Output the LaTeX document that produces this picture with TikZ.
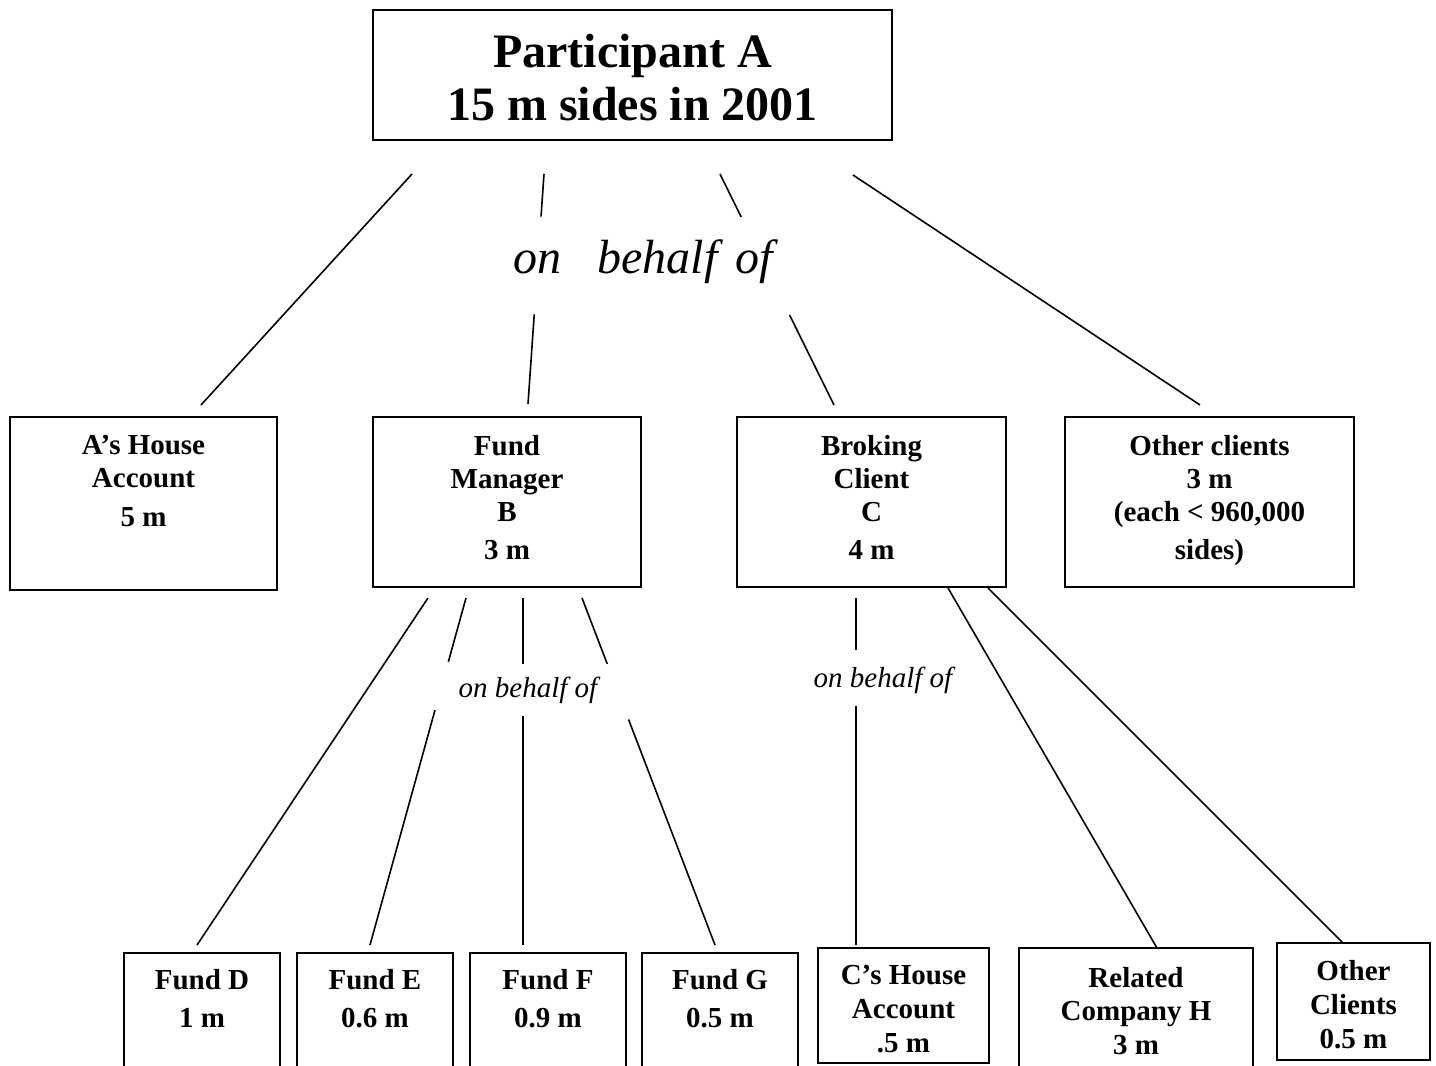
\documentclass[tikz,border=0pt]{standalone}
\usepackage{fontspec}
\setmainfont{Liberation Serif}
\usetikzlibrary{calc}

\tikzset{
	box/.style={draw, line width=1pt, inner sep=0pt},
	boxtxt/.style={font=\bfseries\fontsize{14.5}{16.5}\selectfont, align=center, inner sep=0pt, anchor=north},
	conn/.style={line width=0.8pt},
	obo/.style={font=\itshape\fontsize{14.5}{16.5}\selectfont, inner sep=0pt}
}

\begin{document}
\begin{tikzpicture}[x=0.5pt, y=-0.5pt]
		\useasboundingbox (0,0) rectangle (1436,1066);

		% top box
		\node[box, minimum width=259.5pt, minimum height=65pt] (partA) at (632.5,75) {};
		\node[boxtxt, font=\bfseries\fontsize{24}{26.5}\selectfont] (partAtxt) at (632.5,34) {Participant A\\15 m sides in 2001};

		% middle row
		\node[box, minimum width=133.5pt, minimum height=86.5pt] (houseA) at (143.5,503.5) {};
		\node[boxtxt] (houseAtxt) at (143.5,435) {A’s House\\Account\\[3pt]5 m};

		\node[box, minimum width=134pt, minimum height=85pt] (fundB) at (507,502) {};
		\node[boxtxt] (fundBtxt) at (507,435) {Fund\\Manager\\B\\[2.5pt]3 m};

		\node[box, minimum width=134.5pt, minimum height=85pt] (brokC) at (871.5,502) {};
		\node[boxtxt] (brokCtxt) at (871.5,435) {Broking\\Client\\C\\[2.5pt]4 m};

		\node[box, minimum width=144.5pt, minimum height=85pt] (othAll) at (1209.5,502) {};
		\node[boxtxt] (othAlltxt) at (1209.5,435) {Other clients\\3 m\\(each < 960,000\\[2.5pt]sides)};

		% bottom row, funds of B
		\foreach \name/\x/\amt in {D/202/1 m, E/375/0.6 m, F/548/0.9 m, G/720/0.5 m} {
			\node[box, minimum width=78pt, minimum height=58.5pt] (fund\name) at (\x,1011.5) {};
			\node[boxtxt] (fund\name txt) at (\x,969) {Fund \name\\[2.5pt]\amt};
		}

		% bottom row, clients of C
		\node[box, minimum width=85.5pt, minimum height=57.5pt] (houseC) at (903.5,1005.5) {};
		\node[boxtxt] (houseCtxt) at (903.5,965) {C’s House\\[0.5pt]Account\\[0.5pt].5 m};

		\node[box, minimum width=117pt, minimum height=60pt] (compH) at (1136,1008) {};
		\node[boxtxt] (compHtxt) at (1136,967) {Related\\Company H\\[0.5pt]3 m};

		\node[box, minimum width=76.5pt, minimum height=58.5pt] (othC) at (1353.5,1001.5) {};
		\node[boxtxt] (othCtxt) at (1353.5,960) {Other\\[0.5pt]Clients\\[0.5pt]0.5 m};

		% labels
		\node[obo, font=\itshape\fontsize{24}{26}\selectfont] (oboA) at (643,262) {on\hspace{18pt}behalf\hspace{9pt}of};
		\node[obo] (oboB) at (528,690) {on behalf of};
		\node[obo] (oboC) at (883,680) {on behalf of};

		% line ends
		\coordinate (a1) at (412,174);	\coordinate (a1e) at (201,405);
		\coordinate (a2) at (544,174);	\coordinate (a2e) at (528,404);
		\coordinate (a3) at (720,174);	\coordinate (a3e) at (834,405);
		\coordinate (a4) at (853,175);	\coordinate (a4e) at (1200,405);
		\coordinate (b1) at (428,598);	\coordinate (b1e) at (197,945);
		\coordinate (b2) at (466,598);	\coordinate (b2e) at (370,945);
		\coordinate (b3) at (523,598);	\coordinate (b3e) at (523,945);
		\coordinate (b4) at (582,598);	\coordinate (b4e) at (715,945);
		\coordinate (c1) at (856,598);	\coordinate (c1e) at (856,945);
		\coordinate (c2) at (948,588);	\coordinate (c2e) at (1157,948);
		\coordinate (c3) at (988,588);	\coordinate (c3e) at (1343,943);

		% from A
		\draw[conn] (a1) -- (a1e);
		\draw[conn] (a2) -- ($(a2)!.185!(a2e)$) ($(a2)!.61!(a2e)$) -- (a2e);
		\draw[conn] (a3) -- ($(a3)!.186!(a3e)$) ($(a3)!.61!(a3e)$) -- (a3e);
		\draw[conn] (a4) -- (a4e);

		% from B
		\draw[conn] (b1) -- (b1e);
		\draw[conn] (b2) -- ($(b2)!.184!(b2e)$) ($(b2)!.323!(b2e)$) -- (b2e);
		\draw[conn] (b3) -- ($(b3)!.19!(b3e)$) ($(b3)!.34!(b3e)$) -- (b3e);
		\draw[conn] (b4) -- ($(b4)!.19!(b4e)$) ($(b4)!.35!(b4e)$) -- (b4e);

		% from C
		\draw[conn] (c1) -- ($(c1)!.15!(c1e)$) ($(c1)!.311!(c1e)$) -- (c1e);
		\draw[conn] (c2) -- (c2e);
		\draw[conn] (c3) -- (c3e);
	\end{tikzpicture}
\end{document}
